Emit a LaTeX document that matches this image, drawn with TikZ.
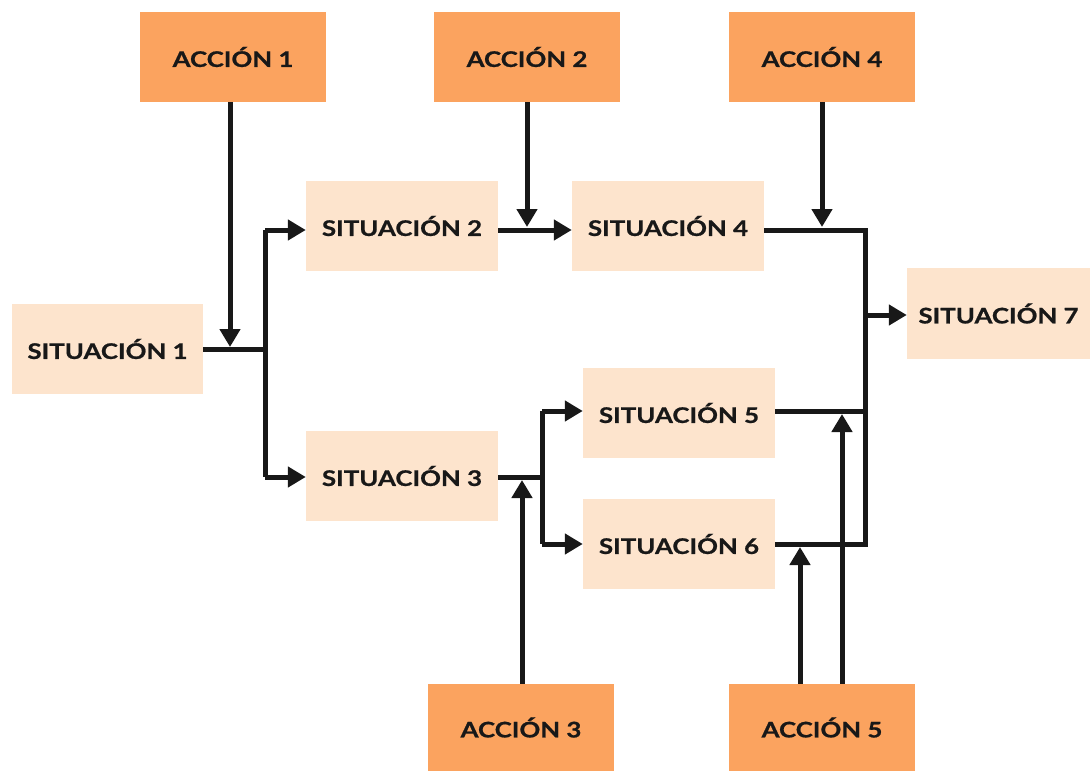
\documentclass[tikz,border=0pt]{standalone}
\usepackage{fontspec}
\setmainfont{Lato}[BoldFeatures={FakeStretch=1.2,FakeBold=0.8}]
\usetikzlibrary{arrows.meta}
\definecolor{accion}{RGB}{251,163,95}
\definecolor{sit}{RGB}{253,228,205}
\definecolor{ink}{RGB}{24,24,24}
\tikzset{
  box/.style={draw=none, minimum width=192pt, minimum height=90pt, inner sep=0pt,
    font=\fontsize{21.5}{24}\selectfont\bfseries, text=ink},
  accbox/.style={box, fill=accion, minimum width=186pt},
  sitbox/.style={box, fill=sit},
  conn/.style={draw=ink, line width=5pt, line join=miter},
  arr/.style={conn, -{Triangle[length=18pt,width=20pt]}}
}
\begin{document}
\begin{tikzpicture}[x=1pt,y=-1pt]
\useasboundingbox (0,0) rectangle (1090,771);
% boxes
\node[accbox] (A1) at (233,57) {ACCIÓN 1};
\node[accbox] (A2) at (527,57) {ACCIÓN 2};
\node[accbox] (A4) at (822,57) {ACCIÓN 4};
\node[sitbox] (S2) at (402,226) {SITUACIÓN 2};
\node[sitbox] (S4) at (668,226) {SITUACIÓN 4};
\node[sitbox, minimum width=183pt, minimum height=91pt] (S7) at (998.5,313.5) {SITUACIÓN 7};
\node[sitbox, minimum width=191pt] (S1) at (107.5,349) {SITUACIÓN 1};
\node[sitbox] (S5) at (679,413) {SITUACIÓN 5};
\node[sitbox] (S3) at (402,476) {SITUACIÓN 3};
\node[sitbox] (S6) at (679,544) {SITUACIÓN 6};
\node[accbox, minimum height=87pt] (A3) at (521,727.5) {ACCIÓN 3};
\node[accbox, minimum height=87pt] (A5) at (822,727.5) {ACCIÓN 5};
% junction coordinates
\coordinate (j1) at (265,349.5);
\coordinate (j1t) at (265,230);
\coordinate (j1b) at (265,477);
\coordinate (j3) at (542,477);
\coordinate (j3t) at (542,411);
\coordinate (j3b) at (542,544);
\coordinate (j7t) at (865,230);
\coordinate (j7m) at (865,315);
\coordinate (j7b) at (865,544);
\coordinate (j5) at (865,411);
\coordinate (a1e) at (230,347);
\coordinate (a2e) at (527,227);
\coordinate (a4e) at (822,227);
\coordinate (a3e) at (522,480);
\coordinate (a5e1) at (800,547);
\coordinate (a5e2) at (842,414);
% connectors
\draw[conn] (S1.east |- j1) -- (j1);
\draw[conn] (j1t) -- (j1b);
\draw[arr] (j1t) -- (S2.west |- j1t);
\draw[arr] (j1b) -- (S3.west |- j1b);
\draw[arr] (S2.east |- j1t) -- (S4.west |- j1t);
\draw[conn] (S3.east |- j3) -- (j3);
\draw[conn] (j3t) -- (j3b);
\draw[arr] (j3t) -- (S5.west |- j3t);
\draw[arr] (j3b) -- (S6.west |- j3b);
\draw[conn] (S4.east |- j7t) -- (j7t) -- (j7b) -- (S6.east |- j7b);
\draw[conn] (S5.east |- j5) -- (j5);
\draw[arr] (j7m) -- (S7.west |- j7m);
\draw[arr] (A1.south -| a1e) -- (a1e);
\draw[arr] (A2.south -| a2e) -- (a2e);
\draw[arr] (A4.south -| a4e) -- (a4e);
\draw[arr] (A3.north -| a3e) -- (a3e);
\draw[arr] (A5.north -| a5e1) -- (a5e1);
\draw[arr] (A5.north -| a5e2) -- (a5e2);
\end{tikzpicture}
\end{document}
